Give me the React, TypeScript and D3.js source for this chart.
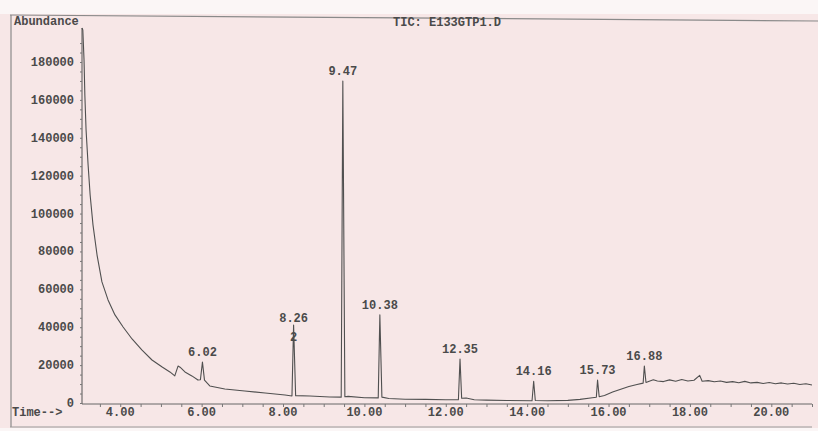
import * as React from 'react';
import * as d3 from 'd3';

// retention time (min), abundance
const trace: [number, number][] = [
  [3.06, 197900], [3.08, 196900], [3.11, 181000], [3.13, 162600], [3.16, 144100],
  [3.21, 125600], [3.26, 109800], [3.33, 94000], [3.43, 78100], [3.55, 63900],
  [3.70, 54400], [3.87, 46500], [4.07, 40100], [4.29, 33800], [4.53, 28000],
  [4.78, 22700], [5.03, 19000], [5.22, 16400], [5.34, 14300], [5.42, 19500],
  [5.47, 18900], [5.59, 16400], [5.76, 14300], [5.91, 12100], [5.97, 12300],
  [6.02, 21600], [6.07, 12100], [6.2, 9000], [6.57, 7400], [7.06, 6300],
  [7.56, 5300], [8.05, 4200], [8.22, 3700], [8.26, 41200], [8.31, 3900],
  [8.66, 3700], [9.15, 3200], [9.43, 3100], [9.47, 170000], [9.52, 3300],
  [9.6, 3500], [10.0, 2800], [10.34, 2700], [10.38, 46500], [10.43, 3100],
  [10.6, 2400], [11.0, 2000], [11.5, 1900], [12.0, 1700], [12.31, 1700],
  [12.35, 23200], [12.39, 2500], [12.5, 2600], [12.7, 1700], [13.0, 1500],
  [13.5, 1300], [14.12, 1200], [14.16, 11500], [14.2, 1300], [14.5, 1200],
  [15.0, 1400], [15.3, 1900], [15.6, 2800], [15.7, 3000], [15.73, 12100],
  [15.77, 3300], [15.9, 4000], [16.1, 5800], [16.3, 7300], [16.5, 8700],
  [16.7, 9800], [16.85, 10500], [16.88, 19500], [16.92, 10800], [17.0, 11500],
  [17.1, 12300], [17.2, 11600], [17.35, 11300], [17.5, 12200], [17.65, 11500],
  [17.8, 12400], [17.95, 11600], [18.1, 12000], [18.24, 14600], [18.3, 11500],
  [18.45, 11800], [18.6, 11200], [18.75, 11600], [18.9, 10900], [19.05, 11300],
  [19.2, 10700], [19.35, 11400], [19.5, 10600], [19.65, 10900], [19.8, 10300],
  [19.95, 10800], [20.1, 10200], [20.25, 10600], [20.4, 10000], [20.55, 10400],
  [20.7, 9800], [20.85, 10200], [21.0, 9500],
];

const peakLabels = ['6.02', '8.26', '9.47', '10.38', '12.35', '14.16', '15.73', '16.88'];
const xTicks = [4, 6, 8, 10, 12, 14, 16, 18, 20];
const yTicks = [0, 20000, 40000, 60000, 80000, 100000, 120000, 140000, 160000, 180000];

const W = 818;
const H = 431;
const ink = '#4a4a4a';
const mono = '"Liberation Mono", "DejaVu Sans Mono", monospace';

export default function App() {
  const ref = React.useRef<SVGSVGElement>(null);

  React.useEffect(() => {
    const svg = d3.select(ref.current);
    svg.selectAll('*').remove();

    const x = d3.scaleLinear().domain([3.06, 21.0]).range([82, 812]);
    const y = d3.scaleLinear().domain([0, 180000]).range([403, 62]);

    svg.append('rect').attr('width', W).attr('height', H).attr('fill', '#fbf6f6');
    svg.append('rect').attr('x', 0).attr('y', 14).attr('width', W).attr('height', 414).attr('fill', '#f7e7e7');

    // frame
    svg.append('line').attr('x1', 10).attr('y1', 15).attr('x2', 818).attr('y2', 21)
      .attr('stroke', '#8a8a8a').attr('stroke-width', 1.2);
    svg.append('line').attr('x1', 11).attr('y1', 15).attr('x2', 11).attr('y2', 427)
      .attr('stroke', '#8a8a8a').attr('stroke-width', 1.2);
    svg.append('line').attr('x1', 10).attr('y1', 427).attr('x2', 812).attr('y2', 427)
      .attr('stroke', '#9a9a9a').attr('stroke-width', 1.2);

    // axes
    const gx = svg.append('g').attr('transform', `translate(0,${y(0) + 1})`);
    gx.call(
      d3.axisBottom(x).tickValues(d3.range(3.5, 21.01, 0.5)).tickSize(3).tickFormat(() => '')
    );
    gx.select('.domain').attr('d', `M82,0H812`).attr('stroke', '#666');
    gx.selectAll('line').attr('stroke', '#777');

    const gy = svg.append('g').attr('transform', 'translate(82,0)');
    gy.call(d3.axisLeft(y).tickValues(d3.range(0, 190001, 5000)).tickSize(2).tickFormat(() => ''));
    gy.select('.domain').attr('d', `M0,28V${y(0) + 1}`).attr('stroke', '#555');
    gy.selectAll('line').attr('stroke', '#777');

    svg.append('g').selectAll('text').data(xTicks).join('text')
      .attr('x', d => x(d)).attr('y', 416).attr('text-anchor', 'middle')
      .text(d => d.toFixed(2));
    svg.append('g').selectAll('text').data(yTicks).join('text')
      .attr('x', 74).attr('y', d => y(d) + 4).attr('text-anchor', 'end')
      .text(d => String(d));

    svg.append('text').attr('x', 12).attr('y', 416).text('Time-->');
    svg.append('text').attr('x', 14).attr('y', 25).text('Abundance');
    svg.append('text').attr('x', 393).attr('y', 26).text('TIC: E133GTP1.D');

    // trace
    const line = d3.line<[number, number]>().x(d => x(d[0])).y(d => y(d[1]));
    svg.append('path').datum(trace).attr('d', line)
      .attr('fill', 'none').attr('stroke', '#505050').attr('stroke-width', 1.1)
      .attr('stroke-linejoin', 'round');

    // peak labels
    const peaks = peakLabels.map(l => trace.find(p => p[0].toFixed(2) === l) as [number, number]);
    svg.append('g').selectAll('text').data(peaks).join('text')
      .attr('x', d => x(d[0])).attr('y', d => y(d[1]) - (d[0] === 8.26 ? 3 : 6))
      .attr('text-anchor', 'middle')
      .text((d, i) => peakLabels[i]);
    const p826 = peaks[1];
    svg.append('text').attr('x', x(p826[0])).attr('y', y(p826[1]) + 16)
      .attr('text-anchor', 'middle').text('2');

    svg.selectAll('text')
      .attr('font-family', mono).attr('font-size', 12).attr('font-weight', 'bold')
      .attr('fill', ink);
  }, []);

  return (
    <div style={{ position: 'fixed', left: 0, top: 0 }}>
      <svg ref={ref} width={W} height={H} style={{ display: 'block' }} />
    </div>
  );
}
